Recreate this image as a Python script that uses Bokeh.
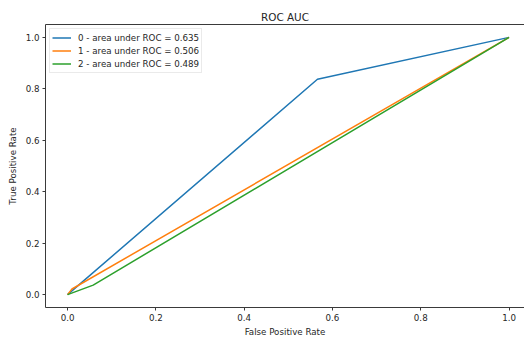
from bokeh.plotting import figure
from bokeh.models import Range1d, LinearAxis, FixedTicker, Legend, LegendItem, PrintfTickFormatter
from bokeh.embed import file_html
from bokeh.resources import INLINE

# ROC curve points per class
fpr_0 = [0.0, 0.566, 1.0]
tpr_0 = [0.0, 0.837, 1.0]
fpr_1 = [0.0, 0.010, 1.0]
tpr_1 = [0.0, 0.022, 1.0]
fpr_2 = [0.0, 0.058, 1.0]
tpr_2 = [0.0, 0.037, 1.0]

class_ids = ["0", "1", "2"]
auc_values = [0.635, 0.506, 0.489]
colors = ["#1f77b4", "#ff7f0e", "#2ca02c"]
tick_values = [0.0, 0.2, 0.4, 0.6, 0.8, 1.0]

FONT = "DejaVu Sans"
TEXT = "#262626"
SPINE = "#3a3a3a"

p = figure(
    width=524, height=339,
    output_backend="svg", toolbar_location=None,
    x_range=Range1d(-0.05, 1.035), y_range=Range1d(-0.05, 1.05),
    min_border_left=45, min_border_right=0,
    min_border_top=24, min_border_bottom=30,
    title="ROC AUC",
)
p.outline_line_color = None
p.grid.visible = False
p.background_fill_color = "white"
p.border_fill_color = "white"

p.title.align = "center"
p.title.text_font = FONT
p.title.text_font_size = "10.4px"
p.title.text_font_style = "normal"
p.title.text_color = TEXT
p.title.standoff = 4
p.title.offset = 2

for ax, lbl in ((p.xaxis[0], "False Positive Rate"), (p.yaxis[0], "True Positive Rate")):
    ax.ticker = FixedTicker(ticks=tick_values)
    ax.formatter = PrintfTickFormatter(format="%.1f")
    ax.axis_label = lbl
    ax.axis_label_text_font = FONT
    ax.axis_label_text_font_size = "8.7px"
    ax.axis_label_text_font_style = "normal"
    ax.axis_label_text_color = TEXT
    ax.major_label_text_font = FONT
    ax.major_label_text_font_size = "8.7px"
    ax.major_label_text_color = TEXT
    ax.major_tick_out = 3
    ax.major_tick_in = 0
    ax.minor_tick_out = 0
    ax.minor_tick_in = 0
    ax.major_label_standoff = 3
    ax.axis_line_color = SPINE
    ax.major_tick_line_color = SPINE
    ax.axis_line_width = 1
p.xaxis[0].axis_label_standoff = 3
p.yaxis[0].axis_label_standoff = 5

# top spine
top = LinearAxis(ticker=FixedTicker(ticks=[]), major_tick_out=0, major_tick_in=0,
                 minor_tick_out=0, minor_tick_in=0, major_label_standoff=0,
                 axis_line_color=SPINE, axis_line_width=1)
p.add_layout(top, "above")

curves = [(fpr_0, tpr_0), (fpr_1, tpr_1), (fpr_2, tpr_2)]
items = []
for (fx, ty), cid, auc, col in zip(curves, class_ids, auc_values, colors):
    r = p.line(fx, ty, line_color=col, line_width=1.5)
    items.append(LegendItem(label=f"{cid} - area under ROC = {auc:.3f}", renderers=[r]))

legend = Legend(items=items, location="top_left", margin=4, padding=2, spacing=0,
                glyph_width=19, glyph_height=13, label_height=13, label_standoff=7,
                label_text_font=FONT, label_text_font_size="8.7px", label_text_color=TEXT,
                border_line_color="#d6d6d6", border_line_width=1,
                background_fill_color="white", background_fill_alpha=0.8)
p.add_layout(legend, "center")

open("out.html", "w").write(file_html(p, INLINE))
